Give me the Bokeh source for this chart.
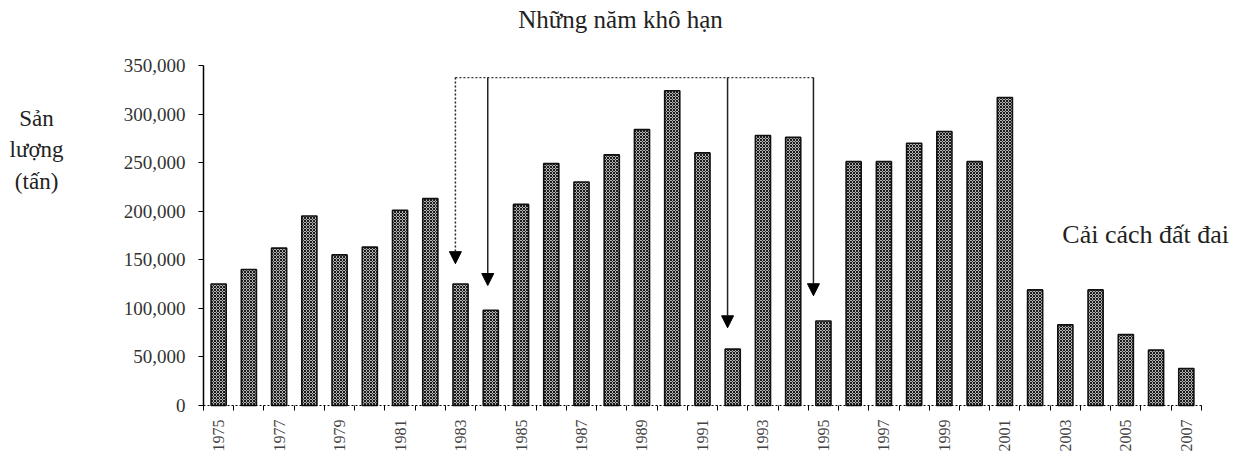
import math
from bokeh.plotting import figure
from bokeh.models import (Range1d, FixedTicker, NumeralTickFormatter, Label, Arrow,
                          NormalHead, ColumnDataSource)
from bokeh.embed import file_html
from bokeh.resources import INLINE

years = list(range(1975, 2008))
production = [125000, 140000, 162000, 195000, 155000, 163000, 201000, 213000,
              125000, 98000, 207000, 249000, 230000, 258000, 284000, 324000,
              260000, 58000, 278000, 276000, 87000, 251000, 251000, 270000,
              282000, 251000, 317000, 119000, 83000, 119000, 73000, 57000, 38000]
label_years = list(range(1975, 2008, 2))
y_ticks = [0, 50000, 100000, 150000, 200000, 250000, 300000, 350000]

# drought-year arrows (annotation positions)
drought_x = [1982.83, 1983.9, 1991.83, 1994.67]
drought_tip = [146000, 123500, 80000, 113000]
drought_dash = ["2 2", "solid", "solid", "solid"]
bracket_y = 337600

SERIF = "Liberation Serif"

p = figure(width=1240, height=452, output_backend="svg", toolbar_location=None,
           x_range=Range1d(1967.787, 2008.792), y_range=Range1d(-48380, 416900),
           min_border_left=0, min_border_right=0, min_border_top=0,
           min_border_bottom=0)
p.outline_line_color = None
p.xgrid.visible = False
p.ygrid.visible = False
p.background_fill_color = "white"
p.border_fill_color = "white"

src = ColumnDataSource(dict(x=years, top=production))
p.vbar(x="x", top="top", width=0.5, source=src, fill_color="#b3b3b3",
       line_color="#111111", line_width=1.6, hatch_pattern="x", hatch_scale=3,
       hatch_weight=1, hatch_color="#1a1a1a")

# axes
xa = p.xaxis[0]
xa.fixed_location = 0
xa.bounds = (1974.5, 2007.5)
xa.ticker = FixedTicker(ticks=label_years,
                        minor_ticks=[y + 0.5 for y in range(1974, 2008)])
xa.major_tick_out = 0
xa.major_tick_in = 0
xa.minor_tick_out = 5
xa.minor_tick_in = 0
xa.minor_tick_line_color = "black"
xa.axis_line_dash = "2 2"
xa.axis_line_color = "black"
xa.major_label_orientation = math.pi / 2
xa.major_label_text_font = SERIF
xa.major_label_text_font_size = "16px"
xa.major_label_text_color = "#444444"
xa.major_label_standoff = 9

ya = p.yaxis[0]
ya.fixed_location = 1974.5
ya.bounds = (0, 350000)
ya.ticker = FixedTicker(ticks=y_ticks)
ya.formatter = NumeralTickFormatter(format="0,0")
ya.major_tick_out = 5
ya.major_tick_in = 0
ya.minor_tick_out = 0
ya.minor_tick_in = 0
ya.axis_line_color = "black"
ya.axis_line_width = 1.5
ya.major_label_text_font = SERIF
ya.major_label_text_font_size = "19px"
ya.major_label_text_color = "#333333"
ya.major_label_standoff = 13

# drought bracket
p.segment(x0=[drought_x[0]], y0=[bracket_y], x1=[drought_x[-1]], y1=[bracket_y],
          line_color="#333333", line_width=1.3, line_dash="2 2")
for xv, tip, dash in zip(drought_x, drought_tip, drought_dash):
    p.add_layout(Arrow(end=NormalHead(size=12, fill_color="black", line_color="black"),
                       x_start=xv, y_start=bracket_y, x_end=xv, y_end=tip,
                       line_color="#222222", line_width=1.5, line_dash=dash))

# texts
p.add_layout(Label(x=1988.29, y=397400, text="Những năm khô hạn", text_align="center",
                   text_baseline="alphabetic",
                   text_font=SERIF, text_font_size="25px", text_color="#222222"))
p.add_layout(Label(x=2002.9, y=176000, text="Cải cách đất đai", text_align="left",
                   text_baseline="alphabetic",
                   text_font=SERIF, text_font_size="26px", text_color="#222222"))
for txt, yy in zip(["Sản", "lượng", "(tấn)"], [295500, 263600, 230600]):
    p.add_layout(Label(x=1968.98, y=yy, text=txt, text_align="center",
                       text_baseline="alphabetic",
                       text_font=SERIF, text_font_size="23px", text_color="#222222"))

open("out.html", "w").write(file_html(p, INLINE))
